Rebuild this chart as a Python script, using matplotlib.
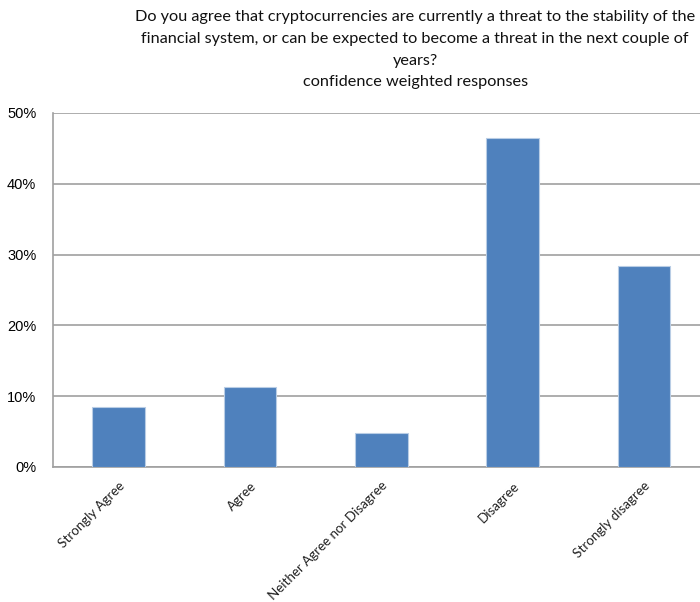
import matplotlib
matplotlib.use("Agg")
import matplotlib.pyplot as plt
from matplotlib.ticker import PercentFormatter

# data
categories = ["Strongly Agree", "Agree", "Neither Agree nor Disagree", "Disagree", "Strongly disagree"]
shares = [8.5, 11.3, 4.8, 46.5, 28.4]
yticks = [0, 10, 20, 30, 40, 50]

title = ("Do you agree that cryptocurrencies are currently a threat to the stability of the\n"
         "financial system, or can be expected to become a threat in the next couple of\n"
         "years?\n"
         "confidence weighted responses")

fig = plt.figure(figsize=(7, 6.02), dpi=100)
ax = fig.add_axes([0.0757, 0.2243, 0.938, 0.588])

x = range(len(categories))
ax.bar(x, shares, width=0.40, color="#4F81BD", edgecolor="#B9CDE5", linewidth=0.8, zorder=3)

ax.set_xlim(-0.5, len(categories) - 0.5)
ax.set_ylim(0, 50)
ax.set_yticks(yticks)
ax.yaxis.set_major_formatter(PercentFormatter(decimals=0))
ax.grid(axis="y", color="#A0A0A0", linewidth=1.2, zorder=0)

for side in ["top", "right"]:
    ax.spines[side].set_visible(False)
for side in ["left", "bottom"]:
    ax.spines[side].set_color("#A0A0A0")
    ax.spines[side].set_linewidth(1.2)

ax.tick_params(axis="y", length=0, pad=12, labelsize=10.5)
ax.tick_params(axis="x", length=0, pad=9)
for lab in ax.get_yticklabels():
    lab.set_fontfamily("Liberation Sans")

ax.set_xticks(list(x))
ax.set_xticklabels(categories, rotation=45, ha="right", rotation_mode="anchor",
                   fontsize=9.6, fontfamily="Lato", color="#222222")

fig.text(0.593, 0.983, title, ha="center", va="top", fontsize=11.7,
         fontfamily="Lato", linespacing=1.7, color="#111111")

fig.savefig("out.png", dpi=100)
